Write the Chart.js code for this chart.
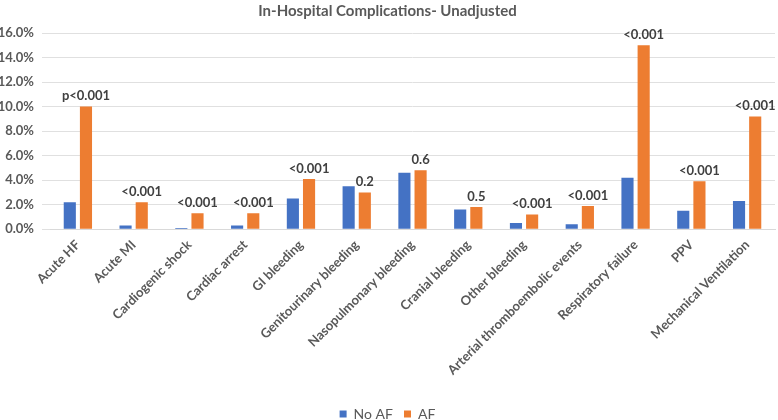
<!DOCTYPE html>
<html><head><meta charset="utf-8">
<script src="https://cdn.jsdelivr.net/npm/chart.js@4.4.0/dist/chart.umd.min.js"></script>
<style>html,body{margin:0;padding:0;background:#fff}#wrap{width:778px;height:420px}</style>
</head><body><div id="wrap"><canvas id="c"></canvas></div>
<script>
const categories = ["Acute HF","Acute MI","Cardiogenic shock","Cardiac arrest","GI bleeding","Genitourinary bleeding","Nasopulmonary bleeding","Cranial bleeding","Other bleeding","Arterial thromboembolic events","Respiratory failure","PPV","Mechanical Ventilation"];
const noAF = [2.2,0.3,0.1,0.3,2.5,3.5,4.6,1.6,0.5,0.4,4.2,1.5,2.3];
const af = [10.0,2.2,1.3,1.3,4.1,3.0,4.8,1.8,1.2,1.9,15.0,3.9,9.2];
const pValues = ["p<0.001","<0.001","<0.001","<0.001","<0.001","0.2","0.6","0.5","<0.001","<0.001","<0.001","<0.001","<0.001"];
const yTicks = [0,2,4,6,8,10,12,14,16];

const FONT = "Lato, 'Liberation Sans', sans-serif";
const pLabels = {
  id: 'pLabels',
  afterLayout(chart) {
    const lg = chart.legend;
    if (lg) { const dy = 396 - lg.top; lg.top += dy; lg.bottom += dy; }
  },
  afterDatasetsDraw(chart) {
    const ctx = chart.ctx;
    const meta = chart.getDatasetMeta(1);
    ctx.save();
    ctx.font = "bold 13px " + FONT;
    ctx.fillStyle = "#404040";
    ctx.textAlign = "center";
    ctx.textBaseline = "bottom";
    meta.data.forEach((bar, i) => {
      ctx.fillText(pValues[i], bar.x, bar.y - 4);
    });
    ctx.restore();
  }
};

new Chart(document.getElementById('c'), {
  type: 'bar',
  data: {
    labels: categories,
    datasets: [
      {label: 'No AF', data: noAF, backgroundColor: '#4472C4'},
      {label: 'AF', data: af, backgroundColor: '#ED7D31'}
    ]
  },
  options: {
    responsive: true,
    maintainAspectRatio: false,
    animation: false,
    layout: {padding: {left: 0, right: 3, top: 0, bottom: 0}},
    datasets: {bar: {categoryPercentage: 0.58, barPercentage: 0.75}},
    plugins: {
      title: {display: true, text: 'In-Hospital Complications- Unadjusted', color: '#595959',
        font: {family: FONT, size: 15, weight: 'bold'}, padding: {top: 2, bottom: 13}},
      legend: {position: 'bottom', labels: {color: '#595959', boxWidth: 7, boxHeight: 7,
        font: {family: FONT, size: 14}, padding: 11}},
      tooltip: {enabled: false}
    },
    scales: {
      x: {
        afterFit(axis) { axis.height += 7; axis.paddingLeft = 0; },
        grid: {display: false},
        border: {color: '#d9d9d9'},
        ticks: {color: '#595959', maxRotation: 45, minRotation: 45, autoSkip: false,
          font: {family: FONT, size: 13, weight: 'bold'}, padding: 0}
      },
      y: {
        min: 0, max: 16,
        afterBuildTicks(axis) { axis.ticks = yTicks.map(v => ({value: v})); },
        afterFit(axis) { axis.width = 50; },
        grid: {color: '#e0e0e0'},
        border: {display: false},
        ticks: {color: '#595959', font: {family: FONT, size: 13, weight: 'bold'},
          callback: v => v.toFixed(1) + '%', padding: 8}
      }
    }
  },
  plugins: [pLabels]
});
</script></body></html>
